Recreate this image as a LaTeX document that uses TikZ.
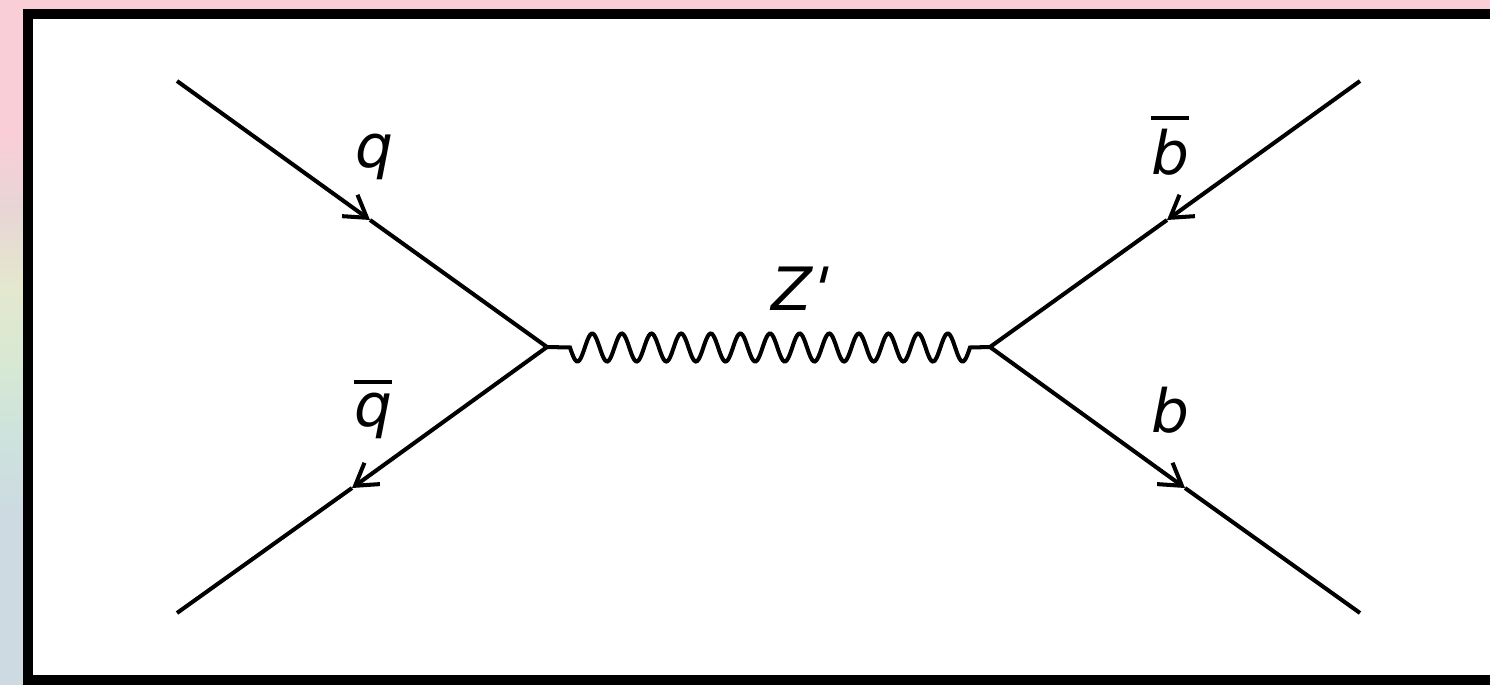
\documentclass[tikz,border=0pt]{standalone}
\usepackage{fontspec}
\setmainfont{DejaVu Sans}[Ligatures=TeXOff]
\usetikzlibrary{arrows.meta}

\definecolor{bgpink}{RGB}{249,206,215}
\definecolor{bgrose}{RGB}{232,212,214}
\definecolor{bgyellow}{RGB}{228,232,206}
\definecolor{bggreen}{RGB}{214,232,212}
\definecolor{bgmint}{RGB}{205,226,220}
\definecolor{bgblue}{RGB}{205,218,226}
\pgfdeclareverticalshading{bgfade}{100bp}{color(0bp)=(bgblue); color(25bp)=(bgblue); color(37bp)=(bgblue); color(43bp)=(bgmint); color(48bp)=(bggreen); color(54bp)=(bgyellow); color(60bp)=(bgrose); color(65bp)=(bgpink); color(100bp)=(bgpink)}

\newcommand{\barred}[1]{\vbox{\hrule height 2.3pt \kern 5pt \hbox{#1}}}

\tikzset{
  particle/.style={font=\fontsize{34}{34}\selectfont\itshape, inner sep=0pt},
  fermion/.style={line width=2.3pt},
}

\begin{document}
\begin{tikzpicture}[x=0.02cm, y=-0.02cm, >={Straight Barb[length=12pt, width=15pt]}]

  % Background and frame
  \useasboundingbox (0, 0) rectangle (1490, 684);
  \shade[shading=bgfade] (0, 0) rectangle (1490, 684);
  \clip (0, 0) rectangle (1490, 684);
  \draw[line width=5.67pt, fill=white] (28, 14) rectangle (1520, 680);

  % Vertices
  \coordinate (vleft) at (547, 347);
  \coordinate (vright) at (990, 347);

  % Incoming pair
  \coordinate (qin) at (177, 81);
  \coordinate (qtip) at (370, 220);
  \coordinate (qbarin) at (177, 613);
  \coordinate (qbartip) at (352, 488);
  \draw[fermion, ->] (qin) -- (qtip);
  \draw[fermion] (qtip) -- (vleft);
  \draw[fermion, ->] (vleft) -- (qbartip);
  \draw[fermion] (qbartip) -- (qbarin);

  % Outgoing pair
  \coordinate (bbarout) at (1360, 81);
  \coordinate (bbartip) at (1167, 220);
  \coordinate (bout) at (1360, 613);
  \coordinate (btip) at (1185, 488);
  \draw[fermion, ->] (bbarout) -- (bbartip);
  \draw[fermion] (bbartip) -- (vright);
  \draw[fermion, ->] (vright) -- (btip);
  \draw[fermion] (btip) -- (bout);

  % Mediator
  \draw[fermion] (vleft) -- plot[domain=570:970, samples=300] (\x, {347.5 + 14*sin((\x-570)*12.15)}) -- (vright);

  % Labels
  \node[particle] (qlabel) at (374.5, 156.5) {q};
  \node[particle] (qbarlabel) at (373, 409.5) {\barred{q}};
  \node[particle] (bbarlabel) at (1170, 145.5) {\barred{b}};
  \node[particle] (blabel) at (1170.5, 410) {b};
  \node[particle] (zlabel) at (798, 289) {Z{\kern -3pt\addfontfeature{FakeSlant=0.25}'}};

\end{tikzpicture}
\end{document}
